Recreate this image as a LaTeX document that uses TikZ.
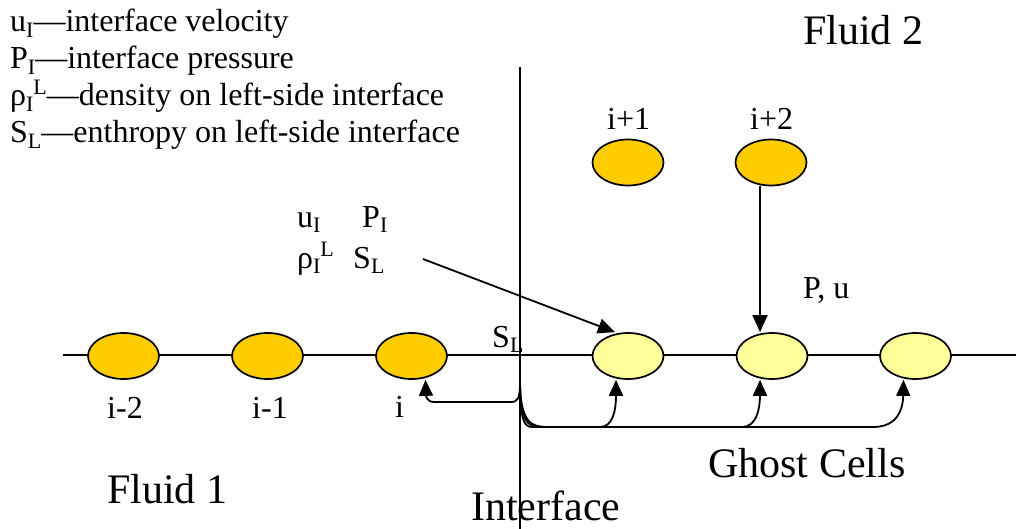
\documentclass[tikz,border=0pt]{standalone}
\usepackage{fontspec}
\setmainfont{Liberation Serif}
\usetikzlibrary{shapes.geometric,arrows.meta,calc}
\definecolor{orangeC}{HTML}{FFCC00}
\definecolor{yellowC}{HTML}{FFFF99}
\newcommand\lowr[1]{\raisebox{-0.16em}{\fontsize{22}{22}\selectfont #1}}
\newcommand\upr[1]{\raisebox{0.36em}{\fontsize{22}{22}\selectfont #1}}
\tikzset{
  cellA/.style={ellipse, draw, line width=1.7pt, fill=orangeC, minimum width=71pt, minimum height=46pt, inner sep=0pt},
  cellB/.style={cellA, fill=yellowC},
  txt/.style={inner sep=0pt, anchor=base west, font=\fontsize{32}{38}\selectfont},
  big/.style={inner sep=0pt, anchor=base west, font=\fontsize{42}{50}\selectfont},
  conn/.style={line width=1.8pt},
  arr/.style={conn, -{Triangle[length=16pt,width=14pt]}}
}
\begin{document}
\begin{tikzpicture}[x=1pt,y=-1pt]
\useasboundingbox (0,0) rectangle (1016,529);
% axis lines
\coordinate (hl) at (63,355);
\coordinate (hr) at (1018,355);
\coordinate (itop) at (520,67);
\coordinate (ibot) at (520,531);
\draw[conn] (hl) -- (hr);
\draw[conn] (itop) -- (ibot);
% cells
\node[cellA] (im2) at (123.5,356) {};
\node[cellA] (im1) at (267.5,356) {};
\node[cellA] (ic)  at (411.5,356) {};
\node[cellB] (g1)  at (628,356) {};
\node[cellB] (g2)  at (772,356) {};
\node[cellB] (g3)  at (915.5,356) {};
\node[cellA] (ip1) at (628,162.5) {};
\node[cellA] (ip2) at (771,162.5) {};
% legend
\node[txt] (l1) at (10,32) {u\lowr{I}—interface velocity};
\node[txt] (l2) at (10,69) {P\lowr{I}—interface pressure};
\node[txt] (l3) at (10,106) {ρ\lowr{I}\upr{L}—density on left-side interface};
\node[txt] (l4) at (10,143) {S\lowr{L}—enthropy on left-side interface};
% labels
\node[big] (f2) at (803,45) {Fluid 2};
\node[big] (f1) at (107,503) {Fluid 1};
\node[big] (gc) at (708,477) {Ghost Cells};
\node[big] (if) at (471,520) {Interface};
\node[txt] (tp1) at (607,130) {i+1};
\node[txt] (tp2) at (750,130) {i+2};
\node[txt] (tm2) at (107,418) {i-2};
\node[txt] (tm1) at (252,418) {i-1};
\node[txt] (ti) at (395,417) {i};
\node[txt] (pu) at (803,298) {P, u};
\node[txt] (sl) at (492,347) {S\lowr{L}};
\node[txt] (uI) at (297,227) {u\lowr{I}};
\node[txt] (PI) at (362,227) {P\lowr{I}};
\node[txt] (rI) at (297,268) {ρ\lowr{I}\upr{L}};
\node[txt] (SL) at (353,268) {S\lowr{L}};
% arrows
\coordinate (ls) at (423,259);
\draw[arr, -{Triangle[length=17pt,width=15pt]}] (ls) -- ($(g1.north)+(-13,0)$);
\draw[arr, -{Triangle[length=17pt,width=15pt]}] ($(ip2.south)+(-11,0)$) -- ($(g2.north)+(-12,0)$);
\coordinate (gs) at (520,380);
\draw[arr] (gs) .. controls (520,400) and (518,402) .. (510,402) -- (434,402) .. controls (427,402) and (426,396) .. ($(ic.south)+(14,0)$);
\draw[arr] (gs) .. controls (520,420) and (524,427) .. (532,427) -- (600,427) .. controls (613,427) and (616,410) .. ($(g1.south)+(-12,0)$);
\draw[arr] (gs) .. controls (520,422) and (528,427) .. (540,427) -- (742,427) .. controls (756,427) and (760,410) .. ($(g2.south)+(-12,0)$);
\draw[arr] (gs) .. controls (520,424) and (532,427) .. (548,427) -- (873,427) .. controls (897,427) and (903,410) .. ($(g3.south)+(-12,0)$);
\end{tikzpicture}
\end{document}
